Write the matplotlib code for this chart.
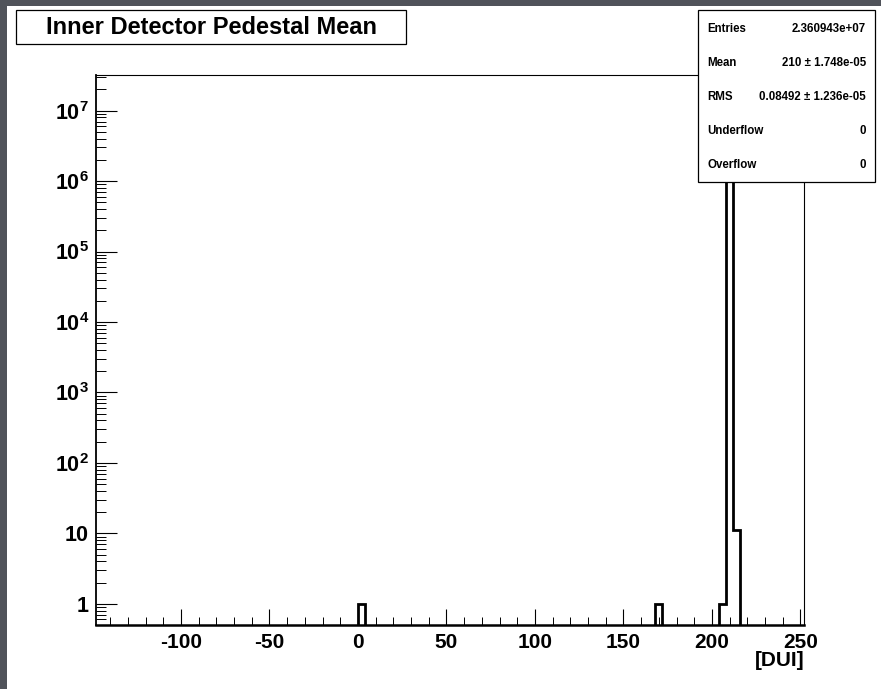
import numpy as np
import matplotlib
matplotlib.use("Agg")
import matplotlib.pyplot as plt
from matplotlib.patches import Rectangle
from matplotlib.ticker import FixedLocator, FixedFormatter, MultipleLocator, NullFormatter

# ---- histogram data -------------------------------------------------------
x_low, x_high, n_bins = -148, 252, 100          # axis range of the histogram
filled_bin_centres = [2, 170, 206, 210, 214]    # centres of the non-empty bins
filled_bin_counts = [1, 1, 1, 23609416, 11]     # entries in those bins

stat_labels = ["Entries", "Mean", "RMS", "Underflow", "Overflow"]
stat_mean = "210 \u00b1 1.748e-05"
stat_rms = "0.08492 \u00b1 1.236e-05"
underflow, overflow = 0, 0

y_major = [1, 10, 1e2, 1e3, 1e4, 1e5, 1e6, 1e7]
y_major_labels = ["1", "10"] + [r"$\mathbf{10^{%d}}$" % k for k in range(2, 8)]
x_title = "[DUI]"
title = "Inner Detector Pedestal Mean"

# ---- style ----------------------------------------------------------------
plt.rcParams["font.family"] = ["Liberation Sans", "DejaVu Sans"]
plt.rcParams["font.weight"] = "bold"
plt.rcParams["axes.unicode_minus"] = False
plt.rcParams["mathtext.fontset"] = "custom"
plt.rcParams["mathtext.rm"] = "Liberation Sans:bold"
plt.rcParams["mathtext.bf"] = "Liberation Sans:bold"
plt.rcParams["mathtext.it"] = "Liberation Sans:bold"

W, H = 881, 689
fig = plt.figure(figsize=(W / 100, H / 100), dpi=100)
fig.patch.set_facecolor("white")


def fx(px):
    return px / W


def fy(py):
    return 1 - py / H


# dark canvas border on the left and top
grey = "#50535a"
fig.add_artist(Rectangle((0, 0), fx(7), 1, transform=fig.transFigure,
                         facecolor=grey, edgecolor="none", zorder=0))
fig.add_artist(Rectangle((0, fy(6)), 1, 6 / H, transform=fig.transFigure,
                         facecolor=grey, edgecolor="none", zorder=0))

ax = fig.add_axes([fx(96), fy(625), fx(804) - fx(96), fy(75) - fy(625)])

edges = np.linspace(x_low, x_high, n_bins + 1)
counts, _ = np.histogram(filled_bin_centres, bins=edges, weights=filled_bin_counts)
ax.stairs(counts, edges, color="black", linewidth=2, baseline=None, zorder=3)

ax.set_yscale("log")
ax.set_xlim(x_low, x_high)
ax.set_ylim(0.5, 3.2e7)

# y ticks: decades with 2..9 minor ticks
minor_y = [m * 10.0 ** d for d in range(-1, 8) for m in range(2, 10)]
ax.yaxis.set_major_locator(FixedLocator(y_major))
ax.yaxis.set_major_formatter(FixedFormatter(y_major_labels))
ax.yaxis.set_minor_locator(FixedLocator(minor_y))
ax.yaxis.set_minor_formatter(NullFormatter())

ax.xaxis.set_major_locator(MultipleLocator(50))
ax.xaxis.set_minor_locator(MultipleLocator(10))

ax.tick_params(axis="y", which="major", direction="in", length=15, width=0.8,
               labelsize=15.5, pad=5, left=True, right=False)
ax.tick_params(axis="y", which="minor", direction="in", length=7, width=0.7,
               left=True, right=False)
ax.tick_params(axis="x", which="major", direction="in", length=11.5, width=0.8,
               labelsize=15, pad=5.5, bottom=True, top=False)
ax.tick_params(axis="x", which="minor", direction="in", length=5.8, width=0.7,
               bottom=True, top=False)
for lab in ax.get_xticklabels() + ax.get_yticklabels():
    lab.set_fontweight("bold")

for side in ("top", "right"):
    ax.spines[side].set_linewidth(0.8)
ax.spines["bottom"].set_linewidth(1.8)
ax.spines["left"].set_linewidth(1.3)

ax.set_xlabel(x_title, loc="right", fontsize=15, fontweight="bold")
ax.xaxis.set_label_coords(1.0, -0.047)

# title pave
fig.add_artist(Rectangle((fx(16), fy(44)), fx(406) - fx(16), fy(10) - fy(44),
                         transform=fig.transFigure, facecolor="white",
                         edgecolor="black", linewidth=0.9, zorder=5))
fig.text(fx(211), fy(27.5), title, ha="center", va="center", fontsize=17,
         fontweight="bold", zorder=6)

# statistics box
fig.add_artist(Rectangle((fx(698), fy(181.5)), fx(875) - fx(698), fy(10) - fy(181.5),
                         transform=fig.transFigure, facecolor="white",
                         edgecolor="black", linewidth=0.9, zorder=5))
entries = float(np.sum(counts))
stat_values = ["%.6e" % entries, stat_mean, stat_rms, str(underflow), str(overflow)]
for i, (lab, val) in enumerate(zip(stat_labels, stat_values)):
    yy = 28.5 + i * 34.2
    fig.text(fx(707), fy(yy), lab, ha="left", va="center", fontsize=8.3,
             fontweight="bold", zorder=6)
    fig.text(fx(866), fy(yy), val, ha="right", va="center", fontsize=8.3,
             fontweight="bold", zorder=6)

fig.savefig("out.png", dpi=100)
